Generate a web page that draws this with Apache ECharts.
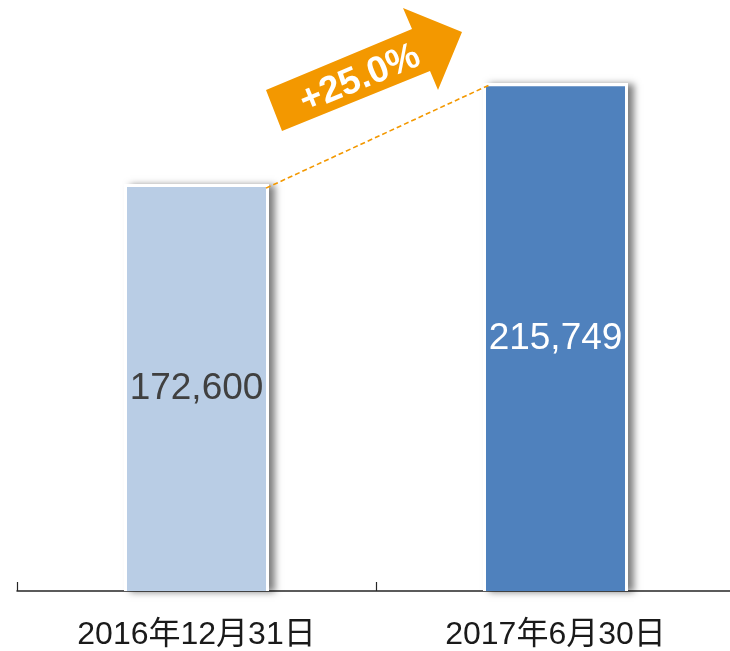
<!DOCTYPE html>
<html>
<head>
<meta charset="utf-8">
<script src="https://cdn.jsdelivr.net/npm/echarts@6/dist/echarts.min.js"></script>
<style>
  html, body { margin: 0; padding: 0; background: #fff; }
  #main { width: 730px; height: 651px; }
</style>
</head>
<body>
<div id="main"></div>
<script>
// data
const categories = ['2016年12月31日', '2017年6月30日']
const values = [172600, 215749]
const barColors = ['#B9CDE5', '#4F81BD']
const labelColors = ['#404040', '#ffffff']
const growthText = '+25.0%'

const chart = echarts.init(document.getElementById('main'))
const barWidth = 139

const option = {
  animation: false,
  grid: { left: 17, width: 718, top: 6, bottom: 60, outerBoundsMode: 'none' },
  xAxis: [
    {
      type: 'category',
      data: categories,
      axisLine: { lineStyle: { color: '#262626', width: 1.5 } },
      axisTick: { show: true, inside: true, length: 9, lineStyle: { color: '#262626', width: 1.2 } },
      axisLabel: {
        margin: 28,
        color: '#1a1a1a',
        fontSize: 32,
        fontFamily: 'Liberation Sans, Noto Sans CJK SC, sans-serif'
      }
    },
    {
      // hidden twin axis so the white backing bars sit on the same centres
      type: 'category',
      data: categories,
      show: false,
      position: 'bottom'
    }
  ],
  yAxis: {
    type: 'value',
    min: 0,
    max: 250000,
    show: false,
    splitLine: { show: false }
  },
  series: [
    {
      // white frame with a soft shadow on the right
      type: 'bar',
      xAxisIndex: 1,
      barWidth: barWidth + 6,
      silent: true,
      z: 1,
      data: values.map(v => v + 1300),
      itemStyle: {
        color: '#ffffff',
        shadowColor: 'rgba(0,0,0,0.5)',
        shadowBlur: 7,
        shadowOffsetX: 6,
        shadowOffsetY: 1
      }
    },
    {
      type: 'bar',
      xAxisIndex: 0,
      barWidth: barWidth,
      z: 3,
      data: values.map((v, i) => ({
        value: v,
        itemStyle: { color: barColors[i] },
        label: { color: labelColors[i] }
      })),
      label: {
        show: true,
        position: 'inside',
        fontSize: 37,
        fontFamily: 'Liberation Sans, Arial, sans-serif',
        formatter: p => p.value.toLocaleString('en-US')
      }
    }
  ]
}
chart.setOption(option)

// dashed connector from top-right of bar 1 to top-left of bar 2
const p1 = chart.convertToPixel({ xAxisIndex: 0, yAxisIndex: 0 }, [0, values[0]])
const p2 = chart.convertToPixel({ xAxisIndex: 0, yAxisIndex: 0 }, [1, values[1]])
const half = barWidth / 2

chart.setOption({
  graphic: [
    {
      type: 'line',
      z: 10,
      shape: { x1: p1[0] + half, y1: p1[1] + 1, x2: p2[0] - half + 3, y2: p2[1] - 1 },
      style: { stroke: '#F39800', lineWidth: 1.6, lineDash: [5, 3] }
    },
    {
      type: 'polygon',
      z: 10,
      shape: {
        points: [[266, 90], [282, 131], [430, 71], [438, 90], [462, 32], [403, 8], [412, 29]]
      },
      style: { fill: '#F39800' }
    },
    {
      type: 'text',
      z: 11,
      x: 360,
      y: 79,
      rotation: 22.5 * Math.PI / 180,
      style: {
        text: growthText,
        fill: '#ffffff',
        font: 'bold 37px Liberation Sans, Arial, sans-serif',
        align: 'center',
        verticalAlign: 'middle'
      }
    }
  ]
})
</script>
</body>
</html>
